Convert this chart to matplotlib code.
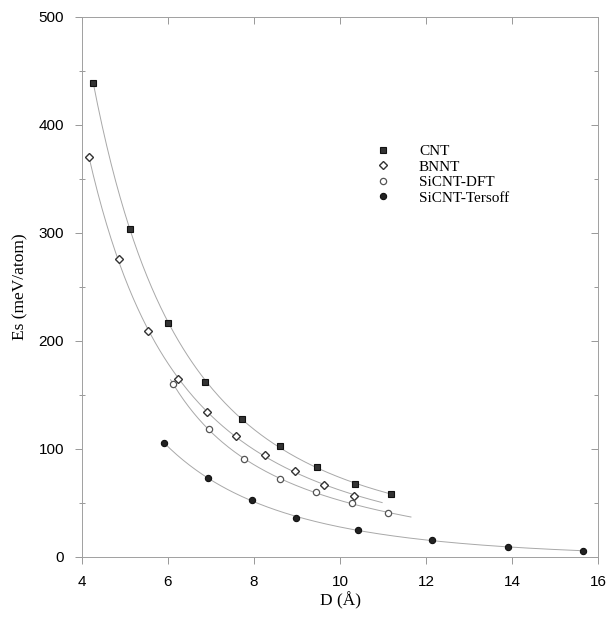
import numpy as np
import matplotlib
matplotlib.use("Agg")
import matplotlib.pyplot as plt

# Data
cnt_d = [4.26, 5.12, 6.00, 6.86, 7.72, 8.60, 9.47, 10.35, 11.19]
cnt_e = [439, 304, 217, 162, 128, 103, 83, 67.6, 58]

bnnt_d = [4.16, 4.86, 5.53, 6.23, 6.90, 7.58, 8.26, 8.95, 9.63, 10.33]
bnnt_e = [370, 276, 209, 165, 134, 112, 94.6, 79.6, 66.7, 56.5]

dft_d = [6.12, 6.95, 7.77, 8.60, 9.44, 10.28, 11.12]
dft_e = [160, 118.5, 90.7, 72, 60, 50, 40.7]

ters_d = [5.91, 6.93, 7.95, 8.98, 10.42, 12.14, 13.91, 15.65]
ters_e = [105.6, 73, 53, 36, 25, 15.7, 9.3, 5.6]

labels = ["CNT", "BNNT", "SiCNT-DFT", "SiCNT-Tersoff"]
xticks = [4, 6, 8, 10, 12, 14, 16]
yticks = [0, 100, 200, 300, 400, 500]

fig = plt.figure(figsize=(6.15, 6.18), dpi=100)
ax = fig.add_axes([82/615, 1-557/618, (598-82)/615, (557-17)/618])

def fit_curve(d, e, d0, d1, deg=3):
    d = np.asarray(d); e = np.asarray(e)
    p = np.polyfit(1.0/d, e, deg)
    xs = np.linspace(d0, d1, 200)
    return xs, np.polyval(p, 1.0/xs)

lc = "#a8a8a8"
lw = 0.7
xs, ys = fit_curve(cnt_d, cnt_e, cnt_d[0], cnt_d[-1])
ax.plot(xs, ys, color=lc, lw=lw)
xs, ys = fit_curve(bnnt_d, bnnt_e, bnnt_d[0], 10.98)
ax.plot(xs, ys, color=lc, lw=lw)
xs, ys = fit_curve(dft_d, dft_e, 6.06, 11.65)
ax.plot(xs, ys, color=lc, lw=lw)
xs, ys = fit_curve(ters_d, ters_e, ters_d[0], ters_d[-1])
ax.plot(xs, ys, color=lc, lw=lw)

h1, = ax.plot(cnt_d, cnt_e, ls="none", marker="s", ms=4.5, mfc="#333333", mec="#111111", mew=0.8)
h2, = ax.plot(bnnt_d, bnnt_e, ls="none", marker="D", ms=4.5, mfc="white", mec="#333333", mew=1.0)
h3, = ax.plot(dft_d, dft_e, ls="none", marker="o", ms=4.5, mfc="white", mec="#555555", mew=0.9)
h4, = ax.plot(ters_d, ters_e, ls="none", marker="o", ms=4.5, mfc="#222222", mec="#111111", mew=0.8)

serif = ["Liberation Serif", "DejaVu Serif"]
leg = ax.legend([h1, h2, h3, h4], labels, loc="upper left", bbox_to_anchor=(0.548, 0.784),
                frameon=False, prop={"family": serif, "size": 11}, handletextpad=1.85,
                labelspacing=0.12, handlelength=1.0, borderaxespad=0.3)

ax.set_xlim(4, 16)
ax.set_ylim(0, 500)
ax.set_xticks(xticks)
ax.set_yticks(yticks)
ax.set_yticks(np.arange(50, 500, 100), minor=True)
ax.tick_params(axis="both", which="major", direction="out", length=5, color="#888888",
               width=0.6, labelsize=11, pad=8)
ax.tick_params(axis="y", which="minor", direction="inout", length=4, color="#888888", width=0.6)
for lab in ax.get_xticklabels() + ax.get_yticklabels():
    lab.set_family(["Liberation Sans", "DejaVu Sans"])

for s in ax.spines.values():
    s.set_color("#a0a0a0")
    s.set_linewidth(0.7)
    s.set_linestyle((0, (1, 1)))

secx = ax.secondary_xaxis("top")
secx.set_xticks(xticks)
secx.tick_params(direction="in", length=5, color="#888888", width=0.6, labeltop=False)
secx.spines["top"].set_visible(False)
secy = ax.secondary_yaxis("right")
secy.set_yticks(yticks)
secy.set_yticks(np.arange(50, 500, 100), minor=True)
secy.tick_params(which="major", direction="in", length=5, color="#888888", width=0.6, labelright=False)
secy.tick_params(which="minor", direction="in", length=3, color="#888888", width=0.6)
secy.spines["right"].set_visible(False)

ax.set_xlabel("D (Å)", family=serif, fontsize=12.5, labelpad=2)
ax.set_ylabel("Es (meV/atom)", family=serif, fontsize=12.5, labelpad=7)

fig.savefig("out.png", dpi=100, facecolor="white")
